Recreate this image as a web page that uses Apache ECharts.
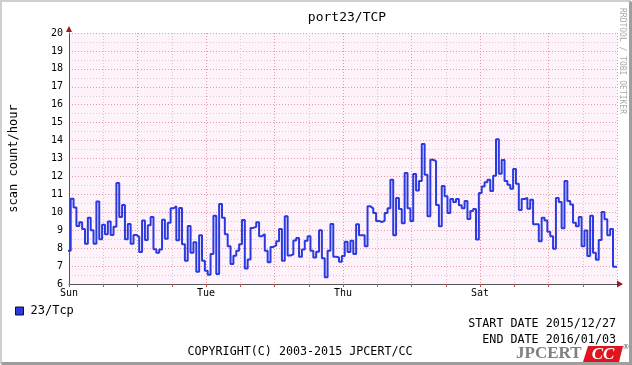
<!DOCTYPE html>
<html><head><meta charset="utf-8">
<script src="https://cdn.jsdelivr.net/npm/echarts@6/dist/echarts.min.js"></script>
<style>html,body{margin:0;padding:0;background:#fff}#c{width:632px;height:365px}</style>
</head><body><div id="c"></div>
<script>
// Tick labels (one per day, shown every 2 days)
const dayNames = ['Sun','Mon','Tue','Wed','Thu','Fri','Sat','Sun'];
// Hourly scan counts, one array per day (2015/12/27 .. 2016/01/03)
const day1 = [7.85,10.76,10.26,9.24,9.44,9.07,8.24,9.69,9.0,8.24,10.6,8.5,9.3,8.78,9.48,8.74,9.19,11.63,9.74,10.4,8.5,9.35,8.24,8.74];
const day2 = [8.63,7.78,9.54,8.46,9.28,9.74,7.94,7.74,7.93,9.59,8.52,9.41,10.22,10.33,8.44,10.24,8.22,7.30,9.24,7.74,8.33,6.69,8.72,7.30];
const day3 = [6.74,6.52,7.67,9.81,6.56,10.46,9.69,8.78,8.11,7.11,7.57,7.85,8.22,9.57,6.87,7.37,9.13,9.19,9.44,8.67,8.78,7.85,7.22,8.07];
const day4 = [8.15,8.39,9.07,7.30,9.78,7.59,7.65,8.43,8.57,7.52,7.93,8.41,8.67,7.85,7.48,7.80,9.0,7.43,6.37,7.85,9.35,7.52,7.48,7.24];
const day5 = [7.56,8.35,7.78,8.41,7.67,9.33,8.72,8.72,8.11,10.33,10.22,9.96,9.52,9.46,9.52,9.96,10.22,11.81,8.72,10.80,10.19,9.39,12.19,10.22];
const day6 = [9.52,12.13,11.22,11.74,13.81,12.09,9.78,12.93,12.85,10.41,9.22,11.46,10.89,9.96,10.74,10.57,10.74,10.39,10.22,10.63,9.63,10.07,10.19,8.48];
const day7 = [11.07,11.44,11.67,11.81,11.19,12.04,14.07,12.15,12.91,11.74,11.54,11.31,12.41,11.59,10.13,10.74,10.80,10.2,10.70,9.33,9.33,8.39,9.69,9.54];
const day8 = [8.91,8.67,7.96,10.80,10.57,9.11,11.74,10.63,10.44,9.41,9.22,9.74,8.11,8.98,7.56,9.80,7.74,7.35,8.46,10.02,9.61,8.72,9.07,6.96];

const hourly = [].concat(day1,day2,day3,day4,day5,day6,day7,day8);
const TOTAL_HOURS = hourly.length;
const STEP_SHIFT = -0.4; // rrdtool step alignment
const seriesData = hourly.map((v,i) => [i + STEP_SHIFT, v]);
seriesData.push([TOTAL_HOURS, hourly[hourly.length-1]]);

const mono = 'DejaVu Sans Mono';
const blue = '#2a3ae0';
const chart = echarts.init(document.getElementById('c'), null, {renderer:'canvas'});

const option = {
  animation: false,
  backgroundColor: '#ffffff',
  title: {
    text: 'port23/TCP', left: 342, top: 6, textAlign: 'center',
    textStyle: {fontFamily: mono, fontSize: 13, fontWeight: 'normal', color: '#000'}
  },
  grid: {left: 67, right: 15, top: 33, bottom: 81, show: true, backgroundColor: '#fff3fb', borderWidth: 0},
  legend: {
    left: 15, top: 305, padding: 0, icon: 'rect', itemWidth: 8, itemHeight: 8,
    textStyle: {fontFamily: mono, fontSize: 12, color: '#000', padding: [0,0,0,2]},
    data: [{name: '23/Tcp', itemStyle: {color: blue, borderColor: '#111', borderWidth: 1}}]
  },
  xAxis: {
    type: 'value', min: 0, max: TOTAL_HOURS, interval: 12,
    axisLine: {lineStyle: {color: '#555', width: 1}},
    axisTick: {show: true, length: 3, lineStyle: {color: '#c05050'}},
    axisLabel: {
      formatter: v => (v % 48 === 0 && v < TOTAL_HOURS) ? dayNames[v/24] : '',
      fontFamily: mono, fontSize: 10, color: '#000', margin: 4
    },
    splitLine: {show: true, lineStyle: {type: [1,2], color: ['#e39aa6','#d6c6d0']}}
  },
  yAxis: {
    type: 'value', min: 6, max: 20, interval: 1,
    name: 'scan count/hour', nameLocation: 'middle', nameGap: 49,
    nameTextStyle: {fontFamily: mono, fontSize: 12, color: '#000'},
    axisLine: {show: true, lineStyle: {color: '#555'}},
    axisTick: {show: false},
    axisLabel: {fontFamily: mono, fontSize: 10, color: '#000', margin: 6},
    splitLine: {lineStyle: {type: [1,2], color: '#e39aa6'}},
    minorTick: {show: false, splitNumber: 2},
    minorSplitLine: {show: true, lineStyle: {type: [1,2], color: '#dfc6d4'}}
  },
  series: [{
    name: '23/Tcp', type: 'line', step: 'end', data: seriesData,
    showSymbol: false, symbol: 'none',
    lineStyle: {color: blue, width: 2}, itemStyle: {color: blue}, z: 3
  }]
};
chart.setOption(option);

const p0 = chart.convertToPixel({gridIndex: 0}, [0, 6]);
const p1 = chart.convertToPixel({gridIndex: 0}, [TOTAL_HOURS, 20]);
const W = 632, H = 365;
chart.setOption({
  graphic: [
    {type: 'polygon', shape: {points: [[p1[0], p0[1]-3.5], [p1[0]+6, p0[1]], [p1[0], p0[1]+3.5]]}, style: {fill: '#a01818'}, z: 10},
    {type: 'polygon', shape: {points: [[p0[0]-3, p1[1]-1], [p0[0], p1[1]-7], [p0[0]+3, p1[1]-1]]}, style: {fill: '#a01818'}, z: 10},
    {type: 'text', x: 622, y: 8, rotation: -Math.PI/2,
      style: {text: 'RRDTOOL / TOBI OETIKER', fontFamily: mono, fontSize: 8, fill: '#aaaaaa', align: 'left', verticalAlign: 'middle'}},
    {type: 'text', x: 616, y: 324, style: {text: 'START DATE 2015/12/27', fontFamily: mono, fontSize: 11.7, fill: '#000', align: 'right', verticalAlign: 'middle'}},
    {type: 'text', x: 616, y: 340, style: {text: 'END DATE 2016/01/03', fontFamily: mono, fontSize: 11.7, fill: '#000', align: 'right', verticalAlign: 'middle'}},
    {type: 'text', x: 300, y: 352, style: {text: 'COPYRIGHT(C) 2003-2015 JPCERT/CC', fontFamily: mono, fontSize: 11.7, fill: '#000', align: 'center', verticalAlign: 'middle'}},
    {type: 'text', x: 516, y: 354, style: {text: 'JPCERT', fontFamily: 'Liberation Serif', fontWeight: 'bold', fontSize: 17, fill: '#7f7f7f', align: 'left', verticalAlign: 'middle'}},
    {type: 'polygon', shape: {points: [[588, 346], [623, 346], [619, 362], [583, 362]]}, style: {fill: '#e0141e'}},
    {type: 'text', x: 603, y: 354.5, style: {text: 'CC', fontFamily: 'Liberation Serif', fontWeight: 'bold', fontStyle: 'italic', fontSize: 17, fill: '#ffffff', align: 'center', verticalAlign: 'middle'}},
    {type: 'text', x: 626, y: 347, style: {text: '®', fontFamily: 'DejaVu Sans', fontSize: 7, fill: '#555', align: 'center', verticalAlign: 'middle'}},
    {type: 'polyline', shape: {points: [[1, H-1], [1, 1], [W-1, 1]]}, style: {stroke: '#cfcfcf', lineWidth: 2, fill: null}},
    {type: 'polyline', shape: {points: [[1.5, H-1.5], [W-1.5, H-1.5], [W-1.5, 1.5]]}, style: {stroke: '#9e9e9e', lineWidth: 3, fill: null}}
  ]
});
</script>
</body></html>
